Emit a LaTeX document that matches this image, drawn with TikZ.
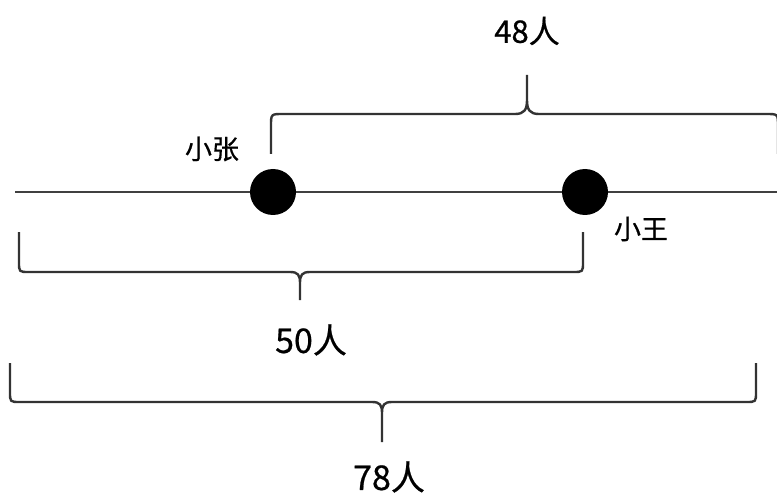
\documentclass[tikz,border=0pt]{standalone}
\usepackage{fontspec}
\setmainfont{Noto Sans CJK SC}
\newfontfamily\cjk[FakeBold=0.6]{Noto Sans CJK SC}
\begin{document}
\begin{tikzpicture}[x=1pt,y=-1pt,
  brace/.style={draw=black!80, line width=2.4pt, line join=round},
  axis/.style={draw=black!75, line width=2.6pt},
  dot/.style={circle, fill=black, minimum size=46pt, inner sep=0pt},
  numlbl/.style={font=\cjk\fontsize{34}{36}\selectfont, inner sep=0pt},
  numlblsmall/.style={font=\cjk\fontsize{31}{34}\selectfont, inner sep=0pt},
  namelbl/.style={font=\cjk\fontsize{27}{30}\selectfont, inner sep=0pt}]
\useasboundingbox (0,0) rectangle (777,500);
% axis
\coordinate (axL) at (15,192);
\coordinate (axR) at (777,192);
\draw[axis] (axL) -- (axR);
\node[dot] (zhang) at (273,192) {};
\node[dot] (wang) at (585,192) {};
% labels
\node[namelbl] (lz) at (212,149) {小张};
\node[namelbl] (lw) at (641,229) {小王};
\node[numlblsmall] (l48) at (527,31) {48人};
\node[numlbl] (l50) at (311,340) {50人};
\node[numlbl] (l78) at (389,477) {78人};
% top brace (opens downward)
\draw[brace] (271,154) -- (271,126) .. controls (271,114) .. (283,114)
  -- (515,114) .. controls (524,114) and (527,110) .. (527,100) -- (527,75)
  (527,100) .. controls (527,110) and (530,114) .. (539,114) -- (766,114)
  .. controls (778,114) .. (778,126) -- (778,154);
% middle brace (opens upward)
\draw[brace] (19,232) -- (19,262) .. controls (19,272) .. (29,272)
  -- (290,272) .. controls (298,272) and (300,275) .. (300,283) -- (300,300)
  (300,283) .. controls (300,275) and (302,272) .. (310,272) -- (573,272)
  .. controls (583,272) .. (583,262) -- (583,232);
% bottom brace (opens upward)
\draw[brace] (10,363) -- (10,392) .. controls (10,402) .. (20,402)
  -- (372,402) .. controls (380,402) and (382,405) .. (382,413) -- (382,442)
  (382,413) .. controls (382,405) and (384,402) .. (392,402) -- (746,402)
  .. controls (756,402) .. (756,392) -- (756,363);
\end{tikzpicture}
\end{document}
